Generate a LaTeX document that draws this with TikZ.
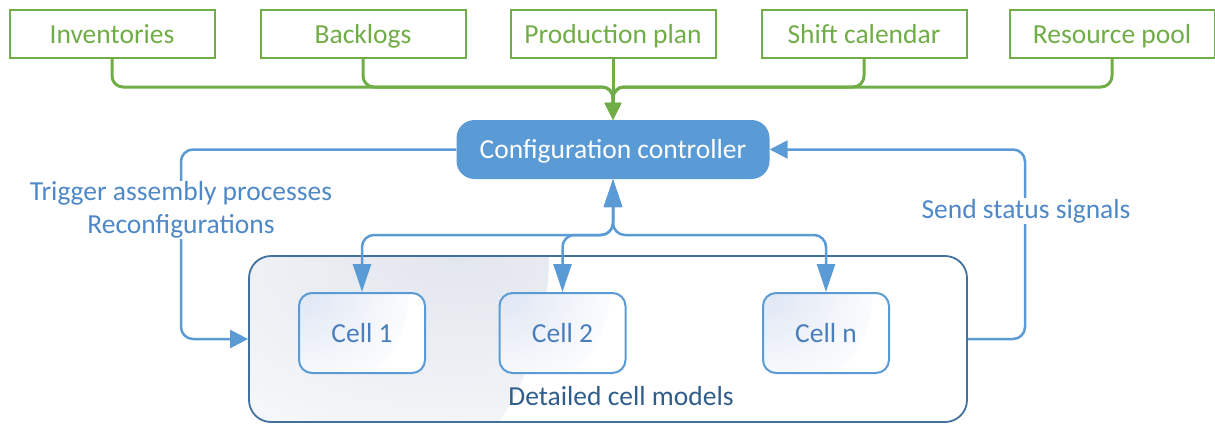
\documentclass[tikz,border=0pt]{standalone}
\usepackage{fontspec}
\setmainfont{Carlito}
\usetikzlibrary{arrows.meta}

\definecolor{leafgreen}{HTML}{70AD47}
\definecolor{ctrlblue}{HTML}{5B9BD5}
\definecolor{labelblue}{HTML}{4F88C6}
\definecolor{cellblue}{HTML}{4A7EBB}
\definecolor{frameblue}{HTML}{41719C}
\definecolor{darktext}{HTML}{2F5D8C}
\definecolor{frameshade}{HTML}{E2E6ED}
\definecolor{cellshade}{HTML}{E0E7F4}

\tikzset{
  vtip/.tip={Triangle[length=28pt,width=18pt]},
  htip/.tip={Triangle[length=18pt,width=18pt]},
  gtip/.tip={Triangle[length=17pt,width=16pt]},
  txt/.style={font=\fontsize{27.5}{33}\selectfont},
  boxtxt/.style={txt, text height=19pt, text depth=1pt},
  inbox/.style={boxtxt, draw=leafgreen, line width=2pt, text=leafgreen,
    minimum width=205pt, minimum height=48pt, inner sep=0pt},
  ctrlbox/.style={boxtxt, fill=ctrlblue, text=white, rounded corners=18pt,
    minimum width=313pt, minimum height=59pt, inner sep=0pt},
  % soft glow from the top-left corner of a box
  cornerglow/.style n args={2}{fill=white, path picture={
      \shade[inner color=#1, outer color=white]
        (path picture bounding box.north west) circle[radius=#2];}},
  framebox/.style={draw=frameblue, line width=1.8pt, rounded corners=22pt,
    cornerglow={frameshade}{300pt},
    minimum width=718pt, minimum height=166pt, inner sep=0pt},
  cellbox/.style={boxtxt, draw=ctrlblue, line width=2pt, rounded corners=13pt,
    cornerglow={cellshade}{110pt}, text=cellblue,
    minimum width=126pt, minimum height=80pt, inner sep=0pt},
  gline/.style={draw=leafgreen, line width=3pt, rounded corners=11pt, -gtip},
  bline/.style={draw=ctrlblue, line width=2.5pt, rounded corners=12pt},
  sidelabel/.style={txt, text=labelblue, fill=white, align=center, inner sep=1pt},
}

\begin{document}
\begin{tikzpicture}[x=1pt,y=-1pt]
\useasboundingbox (0,0) rectangle (1215,423);

% input data sources
\node[inbox] (inv)  at (112,34)  {Inventories};
\node[inbox] (back) at (363,34)  {Backlogs};
\node[inbox] (prod) at (613,34)  {Production plan};
\node[inbox] (shift) at (864,34) {Shift calendar};
\node[inbox] (pool) at (1112,34) {Resource pool};

% controller
\node[ctrlbox] (ctrl) at (613,149.5) {Configuration controller};

% cell models
\node[framebox] (frame) at (608,339) {};
\node[boxtxt, text=darktext] (framelabel) at (621,396) {Detailed cell models};
\node[cellbox] (c1) at (362,333) {Cell 1};
\node[cellbox] (c2) at (562.5,333) {Cell 2};
\node[cellbox] (cn) at (826,333) {Cell n};

% junction points
\coordinate (gbus) at (613,87);
\coordinate (bbus) at (613,235);
\coordinate (lx) at (181,339);
\coordinate (rx) at (1025,339);

% inputs into the controller
\draw[gline] (inv.south) |- (gbus) -- (ctrl.north);
\draw[gline] (back.south) |- (gbus) -- (ctrl.north);
\draw[gline] (prod.south) -- (ctrl.north);
\draw[gline] (shift.south) |- (gbus) -- (ctrl.north);
\draw[gline] (pool.south) |- (gbus) -- (ctrl.north);

% controller <-> cells
\draw[bline, vtip-vtip] (c1.north) |- (bbus) -- (ctrl.south);
\draw[bline, vtip-vtip] (c2.north) |- (bbus) -- (ctrl.south);
\draw[bline, vtip-vtip] (cn.north) |- (bbus) -- (ctrl.south);

% feedback loops
\draw[bline, -htip] (ctrl.west) -| (lx) -- (frame.west);
\draw[bline, -htip] (frame.east) -- (rx) |- (ctrl.east);

\node[sidelabel] (trig) at (181,210) {Trigger assembly processes\\Reconfigurations};
\node[sidelabel] (stat) at (1026,211) {Send status signals};
\end{tikzpicture}
\end{document}
